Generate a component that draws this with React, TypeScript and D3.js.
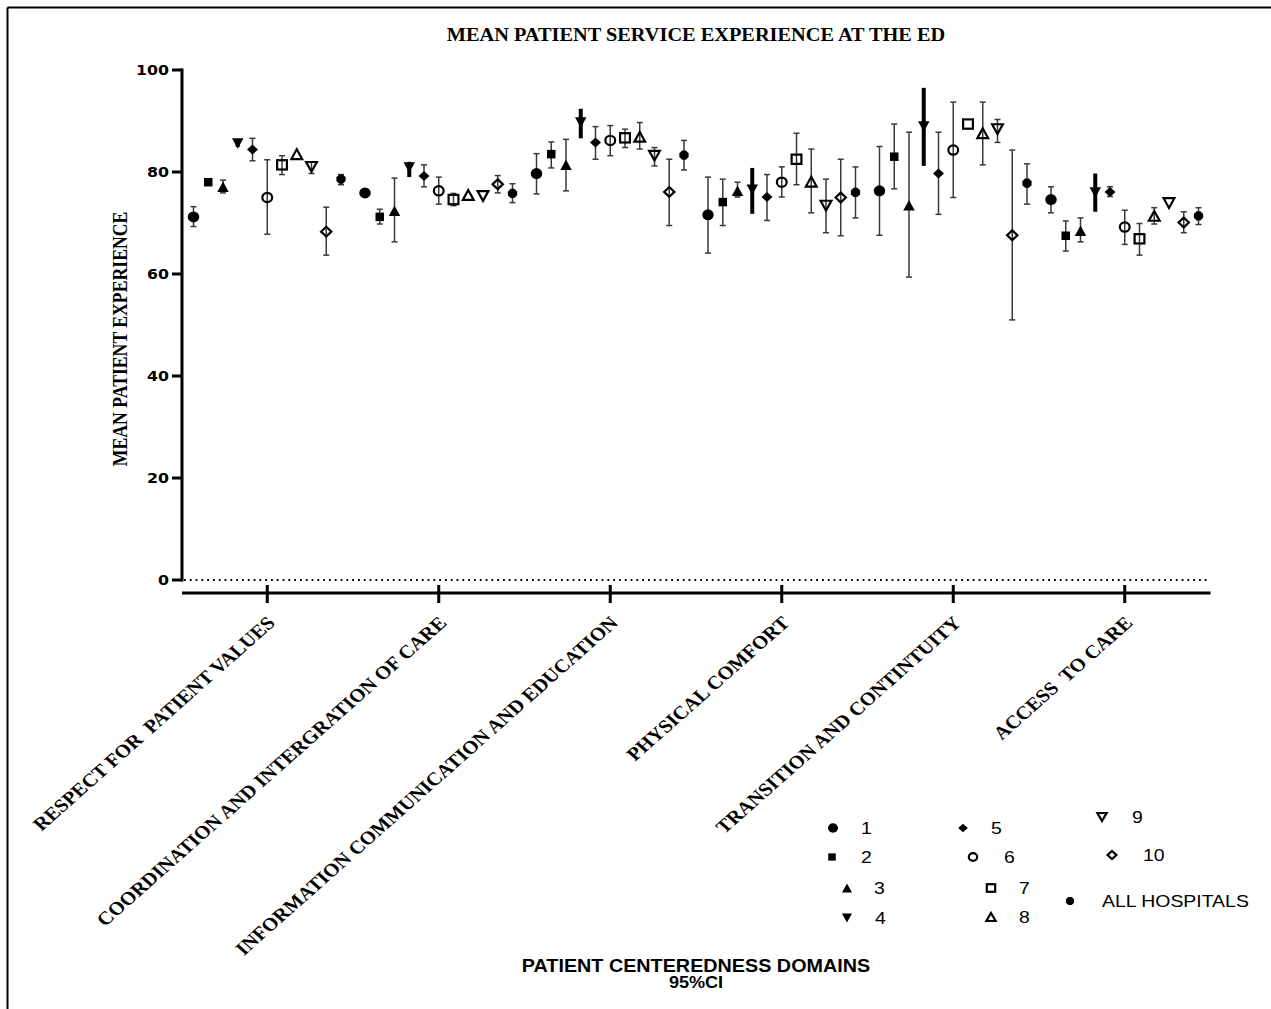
import React from "react";
import * as d3 from "d3";

// ---------- DATA ----------
const categories = [
  "RESPECT FOR  PATIENT VALUES",
  "COORDINATION AND INTERGRATION OF CARE",
  "INFORMATION COMMUNICATION AND EDUCATION",
  "PHYSICAL COMFORT",
  "TRANSITION AND CONTINTUITY",
  "ACCESS  TO CARE",
];
const hospitals = ["1", "2", "3", "4", "5", "6", "7", "8", "9", "10", "ALL HOSPITALS"];
const yTicks = [0, 20, 40, 60, 80, 100];

// per domain: values for hospitals 1..10 and ALL HOSPITALS
const respectMean = [71.2, 78.0, 77.1, 85.6, 84.4, 75.0, 81.4, 83.5, 81.0, 68.3, 78.6];
const respectLower = [69.3, 78.0, 75.9, 84.9, 82.2, 67.8, 79.5, 83.5, 79.7, 63.7, 77.5];
const respectUpper = [73.2, 78.0, 78.4, 86.4, 86.6, 82.4, 83.2, 83.5, 82.0, 73.1, 79.5];

const coordinationMean = [75.9, 71.2, 72.4, 80.9, 79.2, 76.3, 74.6, 75.5, 75.3, 77.6, 75.8];
const coordinationLower = [75.9, 69.8, 66.3, 79.0, 77.1, 73.7, 73.4, 75.5, 75.3, 75.9, 74.0];
const coordinationUpper = [75.9, 72.7, 78.8, 82.0, 81.4, 79.0, 75.8, 75.5, 75.3, 79.3, 77.7];

const informationMean = [79.7, 83.5, 81.4, 89.7, 85.8, 86.2, 86.7, 86.9, 83.2, 76.1, 83.3];
const informationLower = [75.7, 80.8, 76.3, 86.6, 82.5, 83.2, 84.8, 84.5, 81.2, 69.5, 80.4];
const informationUpper = [83.6, 85.9, 86.4, 92.4, 88.9, 89.1, 88.4, 89.7, 84.8, 82.5, 86.2];

const physicalMean = [71.6, 74.1, 76.3, 76.5, 75.1, 78.0, 82.5, 78.1, 73.4, 75.0, 76.0];
const physicalLower = [64.1, 69.5, 75.1, 71.8, 70.5, 75.1, 77.5, 72.0, 68.1, 67.5, 71.0];
const physicalUpper = [79.0, 78.6, 78.0, 80.8, 79.5, 81.0, 87.6, 84.5, 78.6, 82.5, 81.0];

const transitionMean = [76.3, 83.0, 73.5, 88.9, 79.7, 84.3, 89.4, 87.6, 88.4, 67.6, 77.8];
const transitionLower = [67.6, 76.7, 59.4, 81.2, 71.7, 75.0, 89.4, 81.4, 85.8, 51.0, 73.7];
const transitionUpper = [85.0, 89.4, 87.8, 96.5, 87.8, 93.7, 89.4, 93.7, 90.3, 84.3, 81.6];

const accessMean = [74.6, 67.5, 68.5, 76.0, 76.1, 69.2, 66.9, 71.4, 73.9, 70.1, 71.4];
const accessLower = [72.0, 64.5, 66.3, 72.2, 75.2, 65.8, 63.7, 69.8, 73.9, 68.1, 69.7];
const accessUpper = [77.1, 70.4, 71.0, 79.7, 77.1, 72.5, 69.9, 73.0, 73.9, 72.2, 73.0];

const means = [respectMean, coordinationMean, informationMean, physicalMean, transitionMean, accessMean];
const lowers = [respectLower, coordinationLower, informationLower, physicalLower, transitionLower, accessLower];
const uppers = [respectUpper, coordinationUpper, informationUpper, physicalUpper, transitionUpper, accessUpper];

// ---------- STYLE ----------
const SX = 1.13; // horizontal stretch of the original picture
const shapes = ["circle", "square", "triangle", "triangleDown", "diamond", "circle", "square", "triangle", "triangleDown", "diamond", "octagon"];
const filled = [true, true, true, true, true, false, false, false, false, false, true];
const sizes: [number, number][] = [
  [11.5, 11], [8.5, 8.5], [11.5, 10.5], [11.5, 10.5], [11, 10],
  [12, 11.5], [12, 11.5], [13, 12], [13, 12], [12.5, 12], [10, 10],
];
const legendPos: { mx: number; my: number; tx: number }[] = [
  { mx: 833, my: 828, tx: 861 },
  { mx: 832, my: 857, tx: 861 },
  { mx: 847, my: 888, tx: 874 },
  { mx: 847, my: 918, tx: 875 },
  { mx: 963, my: 828, tx: 991 },
  { mx: 973, my: 857, tx: 1004 },
  { mx: 991, my: 888, tx: 1019 },
  { mx: 991, my: 917, tx: 1019 },
  { mx: 1102, my: 817, tx: 1132 },
  { mx: 1112, my: 855, tx: 1143 },
  { mx: 1070, my: 901, tx: 1102 },
];

function Marker({ shape, fill, x, y, w, h }: { shape: string; fill: boolean; x: number; y: number; w: number; h: number }) {
  const sw = fill ? 0 : 2.2;
  const a = (w - sw) / 2;
  const b = (h - sw) / 2;
  const common = {
    fill: fill ? "#000" : "none",
    stroke: fill ? "none" : "#000",
    strokeWidth: sw,
  };
  let el: React.ReactNode;
  if (shape === "circle") el = <ellipse cx={0} cy={0} rx={a} ry={b} {...common} />;
  else if (shape === "square") el = <rect x={-a} y={-b} width={2 * a} height={2 * b} {...common} />;
  else if (shape === "triangle") el = <path d={`M0,${-b}L${a},${b}L${-a},${b}Z`} {...common} />;
  else if (shape === "triangleDown") el = <path d={`M0,${b}L${a},${-b}L${-a},${-b}Z`} {...common} />;
  else if (shape === "diamond") el = <path d={`M0,${-b}L${a},0L0,${b}L${-a},0Z`} {...common} />;
  else {
    const pts = d3.range(8).map((i) => {
      const ang = (Math.PI / 4) * i + Math.PI / 8;
      return `${a * Math.cos(ang)},${b * Math.sin(ang)}`;
    });
    el = <path d={`M${pts.join("L")}Z`} {...common} />;
  }
  return <g transform={`translate(${x},${y})`}>{el}</g>;
}

export default function App() {
  const W = 1271;
  const H = 1009;
  const y = d3.scaleLinear().domain([0, 100]).range([580, 70]);
  const xBand = d3.scaleBand().domain(categories).range([181.5, 1210.5]).padding(0);
  const xOff = d3.scalePoint().domain(hospitals).range([-73.75, 73.75]);
  const center = (c: string) => (xBand(c) as number) + xBand.bandwidth() / 2;

  const serif = "'Liberation Serif', 'Times New Roman', serif";
  const sans = "'Liberation Sans', Arial, sans-serif";

  return (
    <svg width={W} height={H} style={{ position: "absolute", left: 0, top: 0, display: "block", background: "#fff" }}>
      <rect x={0} y={0} width={W} height={H} fill="#fff" />
      {/* frame */}
      <line x1={7.5} y1={7.5} x2={W} y2={7.5} stroke="#000" strokeWidth={2} />
      <line x1={7.5} y1={7.5} x2={7.5} y2={H} stroke="#000" strokeWidth={2} />

      {/* title */}
      <text transform={`translate(696,41) scale(${SX},1)`} textAnchor="middle" fontFamily={serif} fontWeight="bold" fontSize={18}>
        MEAN PATIENT SERVICE EXPERIENCE AT THE ED
      </text>

      {/* y axis */}
      <line x1={182} y1={y(100) - 1.5} x2={182} y2={y(0) + 1.5} stroke="#000" strokeWidth={3} />
      {yTicks.map((t) => (
        <g key={t}>
          <line x1={172} x2={182} y1={y(t)} y2={y(t)} stroke="#000" strokeWidth={3} />
          <text transform={`translate(169,${y(t) + 5.2}) scale(${SX},1)`} textAnchor="end" fontFamily="'DejaVu Sans', sans-serif" fontWeight="bold" fontSize={14}>
            {t}
          </text>
        </g>
      ))}
      <text transform={`translate(126.5,339) scale(${SX},1) rotate(-90)`} textAnchor="middle" fontFamily={serif} fontWeight="bold" fontSize={17.7}>
        MEAN PATIENT EXPERIENCE
      </text>

      {/* zero reference dotted */}
      <line x1={184} x2={1210} y1={y(0)} y2={y(0)} stroke="#000" strokeWidth={2} strokeDasharray="1.8,4" />

      {/* x axis */}
      <line x1={182} x2={1210.5} y1={593} y2={593} stroke="#000" strokeWidth={3} />
      {categories.map((c) => (
        <g key={c}>
          <line x1={center(c)} x2={center(c)} y1={585} y2={603} stroke="#000" strokeWidth={3} />
          <text
            transform={`translate(${center(c) + 9},624) scale(${SX},1) rotate(-45)`}
            textAnchor="end"
            fontFamily={serif}
            fontWeight="bold"
            fontSize={18.5}
            style={{ whiteSpace: "pre" }}
          >
            {c}
          </text>
        </g>
      ))}

      {/* error bars */}
      {categories.map((c, ci) =>
        hospitals.map((hname, hi) => {
          const cx = center(c) + (xOff(hname) as number);
          const lo = y(lowers[ci][hi]);
          const hiY = y(uppers[ci][hi]);
          if (Math.abs(lo - hiY) < 0.5) return null;
          if (hi === 3) {
            return <line key={`e${ci}-${hi}`} x1={cx} x2={cx} y1={hiY} y2={lo} stroke="#000" strokeWidth={4} />;
          }
          return (
            <g key={`e${ci}-${hi}`} stroke="#3a3a3a" strokeWidth={1.5}>
              <line x1={cx} x2={cx} y1={hiY} y2={lo} />
              <line x1={cx - 3} x2={cx + 3} y1={hiY} y2={hiY} />
              <line x1={cx - 3} x2={cx + 3} y1={lo} y2={lo} />
            </g>
          );
        })
      )}

      {/* markers */}
      {categories.map((c, ci) =>
        hospitals.map((hname, hi) => (
          <Marker
            key={`m${ci}-${hi}`}
            shape={shapes[hi]}
            fill={filled[hi]}
            x={center(c) + (xOff(hname) as number)}
            y={y(means[ci][hi])}
            w={sizes[hi][0]}
            h={sizes[hi][1]}
          />
        ))
      )}

      {/* x title */}
      <text transform={`translate(696,972) scale(${SX},1)`} textAnchor="middle" fontFamily={sans} fontWeight="bold" fontSize={17.5}>
        PATIENT CENTEREDNESS DOMAINS
      </text>
      <text transform={`translate(696,988) scale(${SX},1)`} textAnchor="middle" fontFamily={sans} fontWeight="bold" fontSize={16}>
        95%CI
      </text>

      {/* legend */}
      {hospitals.map((hname, hi) => {
        const p = legendPos[hi];
        return (
          <g key={`l${hi}`}>
            <Marker shape={shapes[hi]} fill={filled[hi]} x={p.mx} y={p.my} w={sizes[hi][0] * 0.88} h={sizes[hi][1] * 0.85} />
            <text transform={`translate(${p.tx},${p.my + 6}) scale(${SX},1)`} fontFamily={sans} fontSize={17.2}>
              {hname}
            </text>
          </g>
        );
      })}
    </svg>
  );
}
